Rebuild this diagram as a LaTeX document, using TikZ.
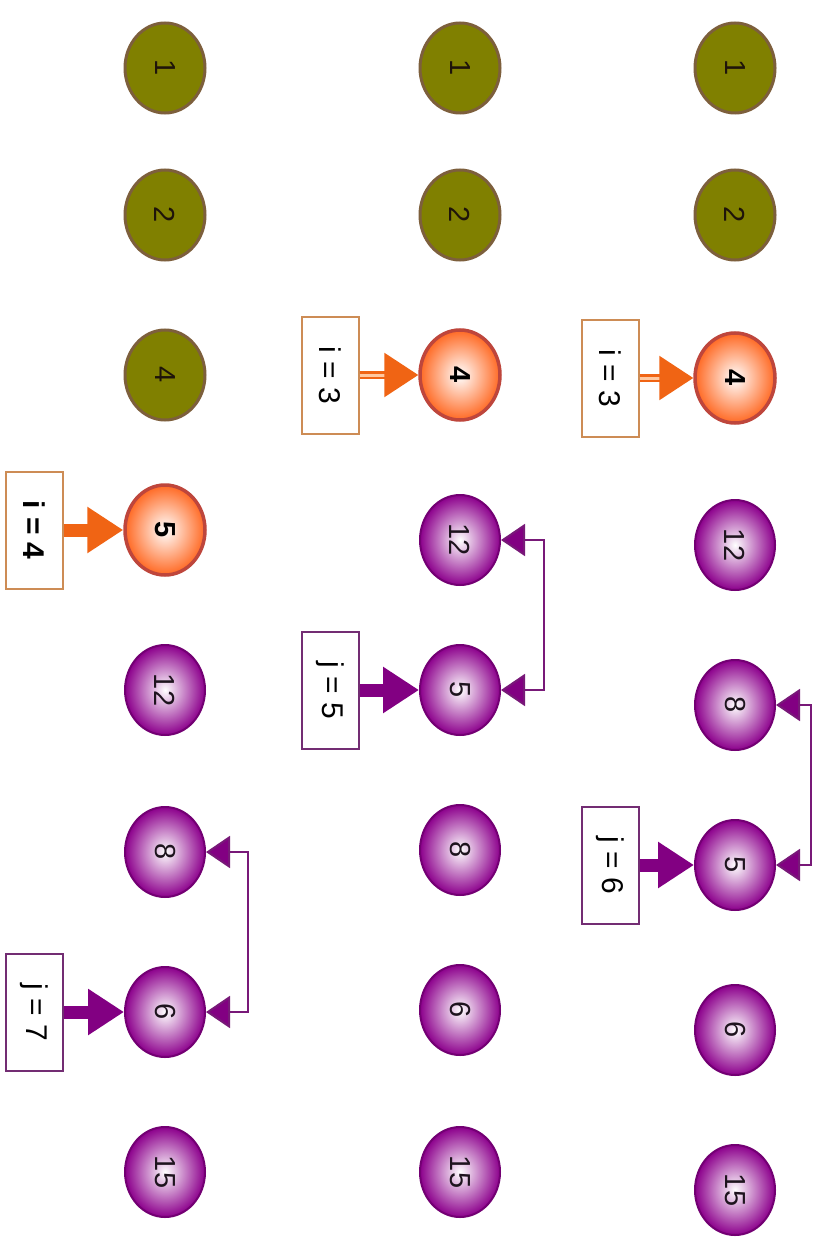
\documentclass[tikz,border=0pt]{standalone}
\usepackage{fontspec}
\setmainfont{Liberation Sans}
\usetikzlibrary{arrows.meta,shapes.geometric}

\definecolor{olivefill}{RGB}{128,128,0}
\definecolor{olivebd}{RGB}{125,95,60}
\definecolor{orangeout}{RGB}{255,105,35}
\definecolor{orangebd}{RGB}{190,70,60}
\definecolor{purpout}{RGB}{140,0,140}
\definecolor{purpbd}{RGB}{115,0,115}
\definecolor{iboxc}{RGB}{205,140,85}
\definecolor{jboxc}{RGB}{115,45,115}
\definecolor{iarrc}{RGB}{240,100,20}
\definecolor{jarrc}{RGB}{130,0,130}
\definecolor{brkc}{RGB}{120,25,120}

\newcommand{\vt}[1]{\rotatebox{-90}{#1}}

\tikzset{
  elem/.style={ellipse, minimum width=80pt, minimum height=90pt, inner sep=0pt,
               font=\fontsize{29}{32}\selectfont},
  done/.style={elem, fill=olivefill, draw=olivebd, line width=3pt, text={rgb,255:red,30;green,20;blue,10}},
  cur/.style={elem, draw=orangebd, line width=3.5pt, inner color=white, outer color=orangeout,
              font=\fontsize{29}{32}\selectfont\bfseries},
  rest/.style={elem, draw=purpbd, line width=2pt, inner color=white, outer color=purpout,
               text={rgb,255:red,30;green,20;blue,30}},
  boxbase/.style={fill=white, line width=2pt, minimum width=57pt, minimum height=117pt,
                  inner sep=0pt, font=\fontsize{30}{34}\selectfont},
  ibox/.style={boxbase, draw=iboxc},
  jbox/.style={boxbase, draw=jboxc},
  iarr/.style={draw=iarrc, line width=13pt, -{Triangle[length=36pt,width=44pt]}},
  iarrd/.style={draw=iarrc, line width=2.5pt, double={rgb,255:red,255;green,200;blue,160},
                double distance=3pt, -{Triangle[length=34pt,width=44pt,fill=iarrc]}},
  jarr/.style={draw=jarrc, line width=13pt, -{Triangle[length=36pt,width=44pt]}},
  brk/.style={draw=brkc, line width=2pt,
              {Triangle[length=24pt,width=32pt,fill=jarrc]}-{Triangle[length=24pt,width=32pt,fill=jarrc]}},
}

\begin{document}
\begin{tikzpicture}[x=1pt,y=-1pt]
  \fill[white] (0,0) rectangle (823,1241);
  \useasboundingbox (0,0) rectangle (823,1241);

  % first pass: i = 4, j = 7
  \node[done] (a1) at (165,68)   {\vt{1}};
  \node[done] (a2) at (165,215)  {\vt{2}};
  \node[done] (a3) at (165,375)  {\vt{4}};
  \node[cur]  (a4) at (165,530)  {\vt{5}};
  \node[rest] (a5) at (165,690)  {\vt{12}};
  \node[rest] (a6) at (165,852)  {\vt{8}};
  \node[rest] (a7) at (165,1012) {\vt{6}};
  \node[rest] (a8) at (165,1172) {\vt{15}};
  \node[ibox, font=\fontsize{30}{34}\selectfont\bfseries] (ai) at (34,530) {\vt{i = 4}};
  \node[jbox] (aj) at (34,1012) {\vt{j = 7}};
  \draw[iarr] (ai.east) -- (a4.west);
  \draw[jarr] (aj.east) -- (a7.west);
  \draw[brk] (a7.east) -- ++(42,0) |- (a6.east);

  % second pass: i = 3, j = 5
  \node[done] (b1) at (460,68)   {\vt{1}};
  \node[done] (b2) at (460,215)  {\vt{2}};
  \node[cur]  (b3) at (460,375)  {\vt{4}};
  \node[rest] (b4) at (460,540)  {\vt{12}};
  \node[rest] (b5) at (460,690)  {\vt{5}};
  \node[rest] (b6) at (460,850)  {\vt{8}};
  \node[rest] (b7) at (460,1010) {\vt{6}};
  \node[rest] (b8) at (460,1172) {\vt{15}};
  \node[ibox] (bi) at (330,375) {\vt{i = 3}};
  \node[jbox] (bj) at (330,690) {\vt{j = 5}};
  \draw[iarrd] (bi.east) -- (b3.west);
  \draw[jarr] (bj.east) -- (b5.west);
  \draw[brk] (b5.east) -- ++(43,0) |- (b4.east);

  % third pass: i = 3, j = 6
  \node[done] (c1) at (735,68)   {\vt{1}};
  \node[done] (c2) at (735,215)  {\vt{2}};
  \node[cur]  (c3) at (735,378)  {\vt{4}};
  \node[rest] (c4) at (735,545)  {\vt{12}};
  \node[rest] (c5) at (735,705)  {\vt{8}};
  \node[rest] (c6) at (735,865)  {\vt{5}};
  \node[rest] (c7) at (735,1030) {\vt{6}};
  \node[rest] (c8) at (735,1190) {\vt{15}};
  \node[ibox] (ci) at (610,378) {\vt{i = 3}};
  \node[jbox] (cj) at (610,865) {\vt{j = 6}};
  \draw[iarrd] (ci.east) -- (c3.west);
  \draw[jarr] (cj.east) -- (c6.west);
  \draw[brk] (c6.east) -- ++(35,0) |- (c5.east);
\end{tikzpicture}
\end{document}
